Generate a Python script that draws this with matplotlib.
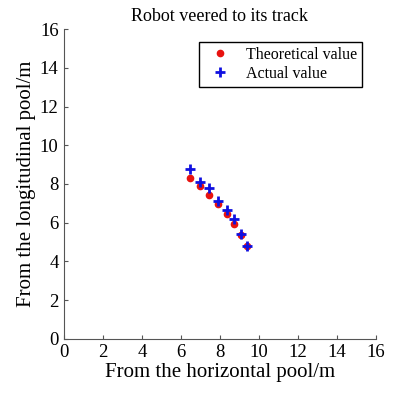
import matplotlib
matplotlib.use('Agg')
import matplotlib.pyplot as plt

plt.rcParams['font.family'] = ['Liberation Serif', 'DejaVu Serif']

# theoretical track
theo_x = [6.48, 6.99, 7.45, 7.91, 8.34, 8.72, 9.06, 9.38]
theo_y = [8.32, 7.90, 7.45, 6.95, 6.45, 5.92, 5.35, 4.78]
# actual track
act_x = [6.48, 6.99, 7.45, 7.91, 8.34, 8.72, 9.06, 9.38]
act_y = [8.77, 8.09, 7.78, 7.14, 6.67, 6.21, 5.40, 4.80]

ticks = [0, 2, 4, 6, 8, 10, 12, 14, 16]

fig = plt.figure(figsize=(3.96, 3.94), dpi=100)
ax = fig.add_axes([0.162, 0.14, 0.787, 0.786])

ax.plot(theo_x, theo_y, 'o', color='#e8120f', markersize=4.5, label='Theoretical value', zorder=2)
ax.plot(act_x, act_y, '+', color='#1010e0', markersize=7, markeredgewidth=2, label='Actual value', zorder=3)

ax.set_xlim(0, 16)
ax.set_ylim(0, 16)
ax.set_xticks(ticks)
ax.set_yticks(ticks)
ax.tick_params(direction='in', labelsize=13.5, length=3, color='#555555', pad=4)
for s in ['top', 'right']:
    ax.spines[s].set_visible(False)
for s in ['left', 'bottom']:
    ax.spines[s].set_color('#555555')

ax.set_title('Robot veered to its track', fontsize=13)
ax.set_xlabel('From the horizontal pool/m', fontsize=15, labelpad=1)
ax.set_ylabel('From the longitudinal pool/m', fontsize=15, labelpad=3)

leg = ax.legend(loc='upper right', fontsize=11.5, fancybox=False, framealpha=1,
                edgecolor='black', handletextpad=0.6, borderpad=0.3,
                labelspacing=0.2, bbox_to_anchor=(0.98, 0.985))
leg.get_frame().set_linewidth(1.0)

fig.savefig('out.png', dpi=100)
